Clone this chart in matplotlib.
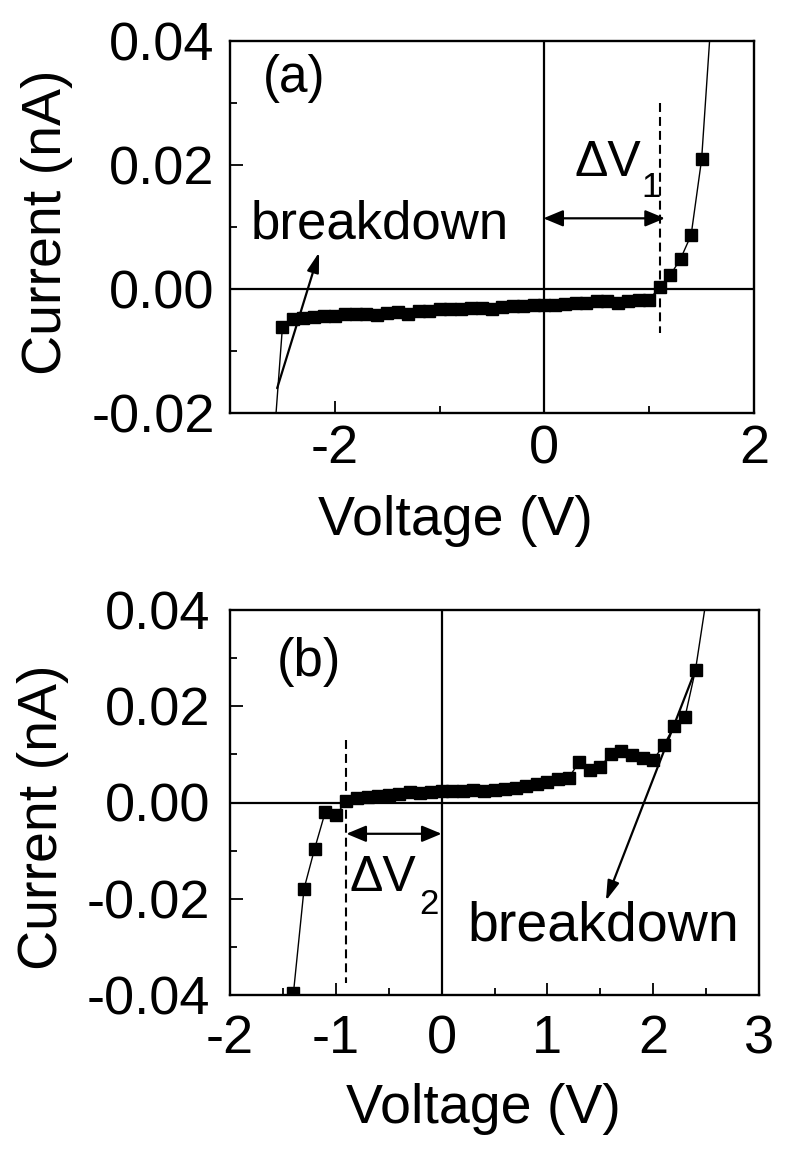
import numpy as np
import matplotlib
matplotlib.use('Agg')
import matplotlib.pyplot as plt

plt.rcParams['font.family'] = ['Liberation Sans', 'DejaVu Sans']

#------------------------------------------------------------------------------
# Data.
#------------------------------------------------------------------------------
# Panel (a)
volt_a = [-2.6, -2.5, -2.4, -2.3, -2.2, -2.1, -2.0, -1.9, -1.8, -1.7, -1.6,
          -1.5, -1.4, -1.3, -1.2, -1.1, -1.0, -0.9, -0.8, -0.7, -0.6, -0.5,
          -0.4, -0.3, -0.2, -0.1, 0.0, 0.1, 0.2, 0.3, 0.4, 0.5, 0.6, 0.7,
          0.8, 0.9, 1.0, 1.1, 1.2, 1.3, 1.4, 1.5, 1.6]
curr_a = [-0.029, -0.0062, -0.0048, -0.0046, -0.0045, -0.0043, -0.0043,
          -0.0041, -0.0040, -0.0040, -0.0042, -0.0038, -0.0037, -0.0040,
          -0.0035, -0.0035, -0.0033, -0.0032, -0.0033, -0.0031, -0.0030,
          -0.0032, -0.0029, -0.0027, -0.0027, -0.0025, -0.0025, -0.0026,
          -0.0024, -0.0022, -0.0022, -0.0020, -0.0020, -0.0022, -0.0019,
          -0.0017, -0.0017, 0.0003, 0.0022, 0.0049, 0.0087, 0.0209, 0.046]

# Panel (b)
volt_b = [-1.4, -1.3, -1.2, -1.1, -1.0, -0.9, -0.8, -0.7, -0.6, -0.5, -0.4,
          -0.3, -0.2, -0.1, 0.0, 0.1, 0.2, 0.3, 0.4, 0.5, 0.6, 0.7, 0.8, 0.9,
          1.0, 1.1, 1.2, 1.3, 1.4, 1.5, 1.6, 1.7, 1.8, 1.9, 2.0, 2.1, 2.2,
          2.3, 2.4, 2.5]
curr_b = [-0.0395, -0.0179, -0.0096, -0.0020, -0.0027, 0.0004, 0.0009,
          0.0012, 0.0014, 0.0016, 0.0018, 0.0021, 0.0020, 0.0022, 0.0024,
          0.0024, 0.0023, 0.0025, 0.0024, 0.0026, 0.0028, 0.0031, 0.0035,
          0.0038, 0.0043, 0.0049, 0.0051, 0.0084, 0.0067, 0.0074, 0.0101,
          0.0106, 0.0098, 0.0093, 0.0089, 0.0119, 0.0160, 0.0177, 0.0276,
          0.042]

xticks_a = [-2, 0, 2]
xticklabels_a = ['-2', '0', '2']
yticks_a = [0.04, 0.02, 0.00, -0.02]
yticklabels_a = ['0.04', '0.02', '0.00', '-0.02']

xticks_b = [-2, -1, 0, 1, 2, 3]
xticklabels_b = ['-2', '-1', '0', '1', '2', '3']
yticks_b = [0.04, 0.02, 0.00, -0.02, -0.04]
yticklabels_b = ['0.04', '0.02', '0.00', '-0.02', '-0.04']

# onset voltages (dashed lines)
v_onset_a = 1.1
v_onset_b = -0.9

TICK_FS = 39
LABEL_FS = 40

fig = plt.figure(figsize=(7.88, 11.49), dpi=100)
W, H = 788.0, 1149.0

def px_axes(left, top, right, bottom):
    return fig.add_axes([left / W, 1 - bottom / H, (right - left) / W, (bottom - top) / H])

def style_axes(ax, xlim, ylim, xt, xtl, yt, ytl, xminor, yminor, xpad, ypad):
    ax.set_xlim(*xlim)
    ax.set_ylim(*ylim)
    ax.set_xticks(xt)
    ax.set_xticklabels(xtl)
    ax.set_yticks(yt)
    ax.set_yticklabels(ytl)
    ax.set_xticks(xminor, minor=True)
    ax.set_yticks(yminor, minor=True)
    ax.tick_params(which='both', direction='in', top=False, right=False, width=1.3)
    ax.tick_params(which='major', length=9)
    ax.tick_params(which='minor', length=5)
    ax.tick_params(axis='x', which='major', labelsize=TICK_FS, pad=xpad)
    ax.tick_params(axis='y', which='major', labelsize=TICK_FS, pad=ypad)
    for s in ax.spines.values():
        s.set_linewidth(1.7)
    ax.axhline(0, color='k', lw=1.6, zorder=1)
    ax.axvline(0, color='k', lw=1.6, zorder=1)

#------------------------------------------------------------------------------
# Panel (a)
#------------------------------------------------------------------------------
ax1 = px_axes(230, 41, 754, 413)
style_axes(ax1, (-3, 2), (-0.02, 0.04), xticks_a, xticklabels_a, yticks_a, yticklabels_a,
           [-1, 1], [0.03, 0.01, -0.01], 8, 11)
ax1.plot(volt_a, curr_a, '-', color='k', lw=1.0, marker='s', ms=8.5, mfc='k', mec='k', zorder=3)
ax1.plot([v_onset_a, v_onset_a], [0.030, -0.0071], color='k', lw=1.5, dashes=(4.3, 2.4), zorder=2)
ax1.annotate('', xy=(1.15, 0.0114), xytext=(-0.01, 0.0114),
             arrowprops=dict(arrowstyle='<|-|>,head_length=0.6,head_width=0.25', lw=1.6,
                             color='k', shrinkA=0, shrinkB=0, mutation_scale=20))
ax1.annotate('', xy=(-2.15, 0.0059), xytext=(-2.55, -0.016),
             arrowprops=dict(arrowstyle='-|>,head_length=0.6,head_width=0.18', lw=1.6,
                             color='k', shrinkA=0, shrinkB=0, mutation_scale=20))
ax1.text(0.285, 0.0183, '\u0394V', fontsize=36, va='baseline', ha='left')
ax1.text(0.93, 0.0148, '1', fontsize=25, va='baseline', ha='left')
ax1.text(-2.80, 0.0082, 'breakdown', fontsize=38, va='baseline', ha='left')
ax1.text(0.063, 0.90, '(a)', fontsize=37, va='center', ha='left', transform=ax1.transAxes)

fig.text(47 / W, 1 - 222 / H, 'Current (nA)', rotation=90, ha='center', va='center',
         fontsize=LABEL_FS)
fig.text(455 / W, 1 - 535 / H, 'Voltage (V)', ha='center', va='baseline', fontsize=LABEL_FS)

#------------------------------------------------------------------------------
# Panel (b)
#------------------------------------------------------------------------------
ax2 = px_axes(230, 610, 759, 995)
style_axes(ax2, (-2, 3), (-0.04, 0.04), xticks_b, xticklabels_b, yticks_b, yticklabels_b,
           [-1.5, -0.5, 0.5, 1.5, 2.5], [0.03, 0.01, -0.01, -0.03], 14, 14)
ax2.plot(volt_b, curr_b, '-', color='k', lw=1.0, marker='s', ms=8.5, mfc='k', mec='k', zorder=3)
ax2.plot([v_onset_b, v_onset_b], [0.0129, -0.0376], color='k', lw=1.5, dashes=(4.3, 2.4), zorder=2)
ax2.annotate('', xy=(0.0, -0.0065), xytext=(-0.9, -0.0065),
             arrowprops=dict(arrowstyle='<|-|>,head_length=0.6,head_width=0.25', lw=1.6,
                             color='k', shrinkA=0, shrinkB=0, mutation_scale=20))
ax2.annotate('', xy=(1.553, -0.0204), xytext=(2.4, 0.0276),
             arrowprops=dict(arrowstyle='-|>,head_length=0.6,head_width=0.18', lw=1.6,
                             color='k', shrinkA=0, shrinkB=0, mutation_scale=20))
ax2.text(-0.866, -0.0183, '\u0394V', fontsize=36, va='baseline', ha='left')
ax2.text(-0.21, -0.0231, '2', fontsize=25, va='baseline', ha='left')
ax2.text(0.247, -0.0287, 'breakdown', fontsize=40, va='baseline', ha='left')
ax2.text(0.089, 0.866, '(b)', fontsize=38, va='center', ha='left', transform=ax2.transAxes)

fig.text(43 / W, 1 - 817 / H, 'Current (nA)', rotation=90, ha='center', va='center',
         fontsize=LABEL_FS)
fig.text(483 / W, 1 - 1123 / H, 'Voltage (V)', ha='center', va='baseline', fontsize=LABEL_FS)

fig.savefig('out.png', dpi=100)
